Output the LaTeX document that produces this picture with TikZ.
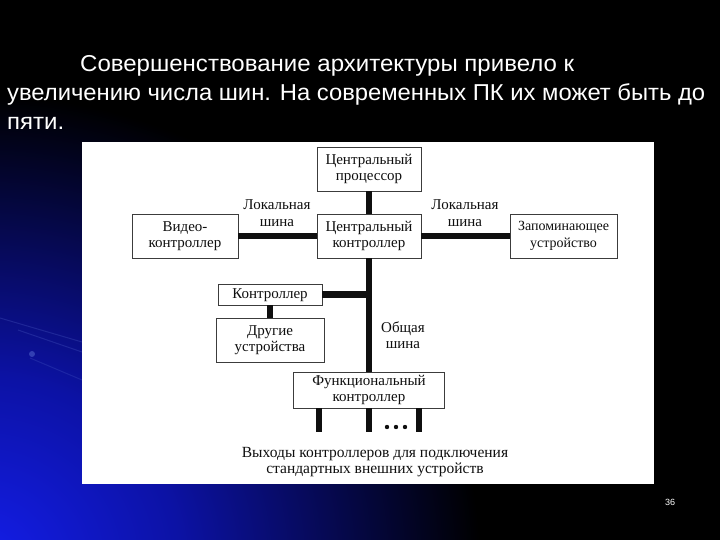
\documentclass[tikz,border=0pt]{standalone}
\usepackage{fontspec}
\usepackage{graphicx}
\setmainfont{Liberation Serif}
\newfontfamily\titlefont{Liberation Sans}
\definecolor{ink}{RGB}{15,15,15}
\definecolor{boxgray}{RGB}{60,60,60}
\definecolor{glowA}{RGB}{20,30,235}
\definecolor{glowB}{RGB}{12,18,165}
\definecolor{streak}{RGB}{90,110,210}
\pgfdeclareradialshading{glow}{\pgfpoint{0bp}{0bp}}{color(0bp)=(glowA); color(10bp)=(glowB); color(25bp)=(black); color(50bp)=(black)}
\tikzset{
  box/.style={draw=boxgray, line width=0.8pt, fill=white, align=center, inner sep=0pt,
    font=\fontsize{15}{16.5}\selectfont, text=ink},
  bus/.style={draw=ink, line width=6.5pt},
  lbl/.style={align=center, inner sep=0pt, font=\fontsize{15}{16.5}\selectfont, text=ink},
  titletext/.style={anchor=base west, inner sep=0pt, text=white, font=\titlefont\fontsize{23}{27}\selectfont},
}
\begin{document}
\begin{tikzpicture}[x=1pt,y=-1pt]
\useasboundingbox (0,0) rectangle (720,540);
\fill[black] (0,0) rectangle (720,540);
\begin{scope}
  \clip (0,0) rectangle (720,540);
  \shade[shading=glow] (-20,565) ellipse [x radius=500pt, y radius=470pt];
  \draw[streak, opacity=0.25, line width=1pt] (0,318) -- (82,342);
  \draw[streak, opacity=0.25, line width=1pt] (18,330) -- (82,352);
  \draw[streak, opacity=0.22, line width=1pt] (30,358) -- (82,380);
  \fill[streak, opacity=0.5] (32,354) circle [radius=3pt];
\end{scope}
% title
\node[titletext] (t1) at (80,72) {\resizebox{494pt}{\height}{Совершенствование архитектуры привело к}};
\node[titletext] (t2) at (7,101) {\resizebox{698pt}{\height}{увеличению числа шин. На современных ПК их может быть до}};
\node[titletext] (t3) at (7,130) {\resizebox{57pt}{\height}{пяти.}};
% panel
\fill[white] (82,142) rectangle (654,484);
% boxes
\node[box, minimum width=104pt, minimum height=44pt] (cpu) at (369,169) {Центральный\\процессор};
\node[box, minimum width=106pt, minimum height=44pt] (video) at (185,236) {Видео-\\контроллер};
\node[box, minimum width=104pt, minimum height=44pt] (cc) at (369,236) {Центральный\\контроллер};
\node[box, minimum width=107pt, minimum height=44pt, font=\fontsize{14}{16.5}\selectfont] (mem) at (563.5,236) {Запоминающее\\устройство};
\node[box, minimum width=104pt, minimum height=21pt, text height=10pt, text depth=3pt] (ctrl) at (270,294.5) {Контроллер};
\node[box, minimum width=108pt, minimum height=44pt] (other) at (270,340) {Другие\\устройства};
\node[box, minimum width=151pt, minimum height=36pt] (func) at (369,390) {Функциональный\\контроллер};
% buses
\draw[bus] (cpu.south) -- (cc.north);
\draw[bus] (video.east) -- (cc.west);
\draw[bus] (cc.east) -- (mem.west);
\draw[bus] (cc.south) -- (func.north);
\draw[bus] (ctrl.east) -- (ctrl.east -| cc.south);
\draw[bus] (ctrl.south) -- (other.north);
% outputs
\coordinate (o1) at (319,432);
\coordinate (o2) at (369,432);
\coordinate (o3) at (419,432);
\draw[bus] (o1 |- func.south) -- (o1);
\draw[bus] (o2 |- func.south) -- (o2);
\draw[bus] (o3 |- func.south) -- (o3);
\foreach \dx in {387,396,405} \fill[ink] (\dx,427) circle [radius=2.2pt];
% labels
\node[lbl] (lbll) at (277,213) {Локальная\\шина};
\node[lbl] (lblr) at (465,213) {Локальная\\шина};
\node[lbl] (lblc) at (403,335) {Общая\\шина};
\node[lbl, font=\fontsize{15.5}{15.5}\selectfont] (cap) at (375,462) {Выходы контроллеров для подключения\\стандартных внешних устройств};
% page number
\node[inner sep=0pt, text=white, font=\titlefont\fontsize{9}{10}\selectfont] (pg) at (670,502) {36};
\end{tikzpicture}
\end{document}
